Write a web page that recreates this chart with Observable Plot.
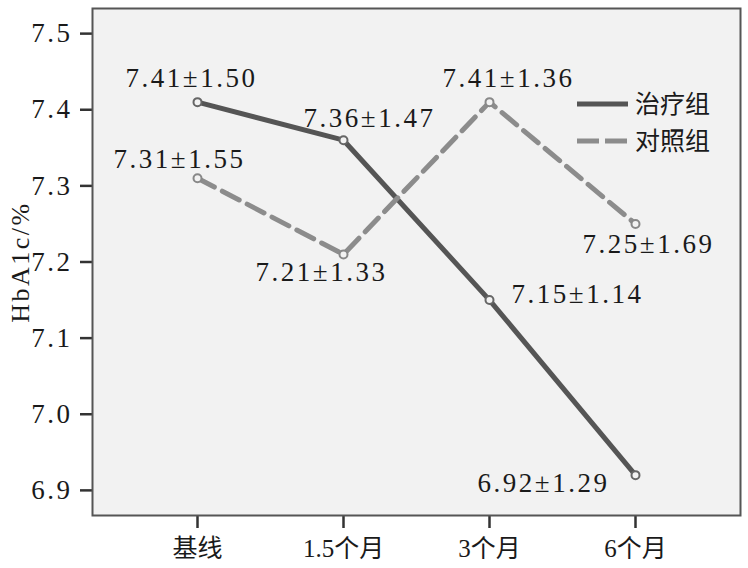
<!DOCTYPE html>
<html>
<head>
<meta charset="utf-8">
<script src="https://cdn.jsdelivr.net/npm/d3@7"></script>
<script src="https://cdn.jsdelivr.net/npm/@observablehq/plot@0.6"></script>
<style>
  html, body { margin: 0; padding: 0; background: #fff; }
  #chart svg { display: block; }
  g[aria-label="x-axis tick label"] { letter-spacing: 0px; }
</style>
</head>
<body>
<div id="chart"></div>
<script>
// ---- data ----
const timepoints = ["基线", "1.5个月", "3个月", "6个月"];
const groups = ["治疗组", "对照组"];
const treatMean = [7.41, 7.36, 7.15, 6.92];
const treatSD = [1.50, 1.47, 1.14, 1.29];
const ctrlMean = [7.31, 7.21, 7.41, 7.25];
const ctrlSD = [1.55, 1.33, 1.36, 1.69];
const yTicks = [6.9, 7.0, 7.1, 7.2, 7.3, 7.4, 7.5];
const yLabel = "HbA1c/%";

// ---- layout (label offsets in px, not data) ----
const treatLabelOffset = [[-6, -24], [26, -22], [88, -6], [-92, 8]];
const ctrlLabelOffset = [[-18, -19], [-22, 18], [19, -24], [13, 20]];

const serif = "'Liberation Serif', 'Times New Roman', 'Noto Sans CJK SC', serif";
const solidColor = "#555555";
const dashColor = "#8c8c8c";

const treat = timepoints.map((t, i) => ({t, v: treatMean[i], sd: treatSD[i], g: groups[0]}));
const ctrl = timepoints.map((t, i) => ({t, v: ctrlMean[i], sd: ctrlSD[i], g: groups[1]}));
const fmt = d => `${d.v.toFixed(2)}±${d.sd.toFixed(2)}`;

const labelMarks = [];
treat.forEach((d, i) => labelMarks.push(Plot.text([d], {
  x: "t", y: "v", text: fmt, dx: treatLabelOffset[i][0], dy: treatLabelOffset[i][1],
  fontSize: 27, fontFamily: serif, fill: "#1a1a1a"
})));
ctrl.forEach((d, i) => labelMarks.push(Plot.text([d], {
  x: "t", y: "v", text: fmt, dx: ctrlLabelOffset[i][0], dy: ctrlLabelOffset[i][1],
  fontSize: 27, fontFamily: serif, fill: "#1a1a1a"
})));

const chart = Plot.plot({
  width: 748,
  height: 568,
  marginLeft: 92,
  marginRight: 8,
  marginTop: 8,
  marginBottom: 53,
  style: {fontFamily: serif, fontSize: "27px", letterSpacing: "2.5px", color: "#1a1a1a", background: "#fff"},
  x: {type: "point", domain: timepoints, padding: 0.715},
  y: {domain: [6.867, 7.533]},
  marks: [
    Plot.frame({fill: "#f2f2f2", stroke: null}),
    Plot.axisY(yTicks, {tickSize: 12, tickPadding: 8, tickFormat: ".1f", fontSize: 27, fontFamily: serif,
      stroke: "#333", strokeWidth: 2.5, label: null}),
    Plot.axisX({tickSize: 13, tickPadding: 11, fontSize: 25, fontFamily: serif,
      stroke: "#333", strokeWidth: 2.5, label: null}),
    Plot.text([yLabel], {frameAnchor: "left", textAnchor: "middle", dx: -72, rotate: -90, fontSize: 26,
      fontFamily: serif, fill: "#1a1a1a", letterSpacing: 5}),
    Plot.line(treat, {x: "t", y: "v", stroke: solidColor, strokeWidth: 5}),
    Plot.line(ctrl, {x: "t", y: "v", stroke: dashColor, strokeWidth: 5, strokeDasharray: "19,9"}),
    Plot.dot(treat, {x: "t", y: "v", r: 4, stroke: "#666", fill: "#f2f2f2", strokeWidth: 2}),
    Plot.dot(ctrl, {x: "t", y: "v", r: 4, stroke: "#888", fill: "#f2f2f2", strokeWidth: 2}),
    ...labelMarks,
    Plot.frame({stroke: "#555", strokeWidth: 2})
  ]
});
document.getElementById("chart").appendChild(chart);

// ---- legend (inside plot, top right) ----
const svg = d3.select(chart);
const legend = svg.append("g").attr("font-family", "'Noto Sans CJK SC', 'Liberation Serif', serif")
  .attr("font-size", 25).attr("letter-spacing", 0).attr("text-anchor", "start");
const legendItems = [
  {label: groups[0], stroke: solidColor, dash: null},
  {label: groups[1], stroke: dashColor, dash: "22,6"}
];
legendItems.forEach((it, i) => {
  const yy = 104 + i * 37;
  legend.append("line").attr("x1", 577).attr("x2", 628).attr("y1", yy).attr("y2", yy)
    .attr("stroke", it.stroke).attr("stroke-width", 5).attr("stroke-dasharray", it.dash);
  legend.append("text").attr("x", 635).attr("y", yy).attr("dy", "0.36em")
    .attr("fill", "#1a1a1a").text(it.label);
});
</script>
</body>
</html>
